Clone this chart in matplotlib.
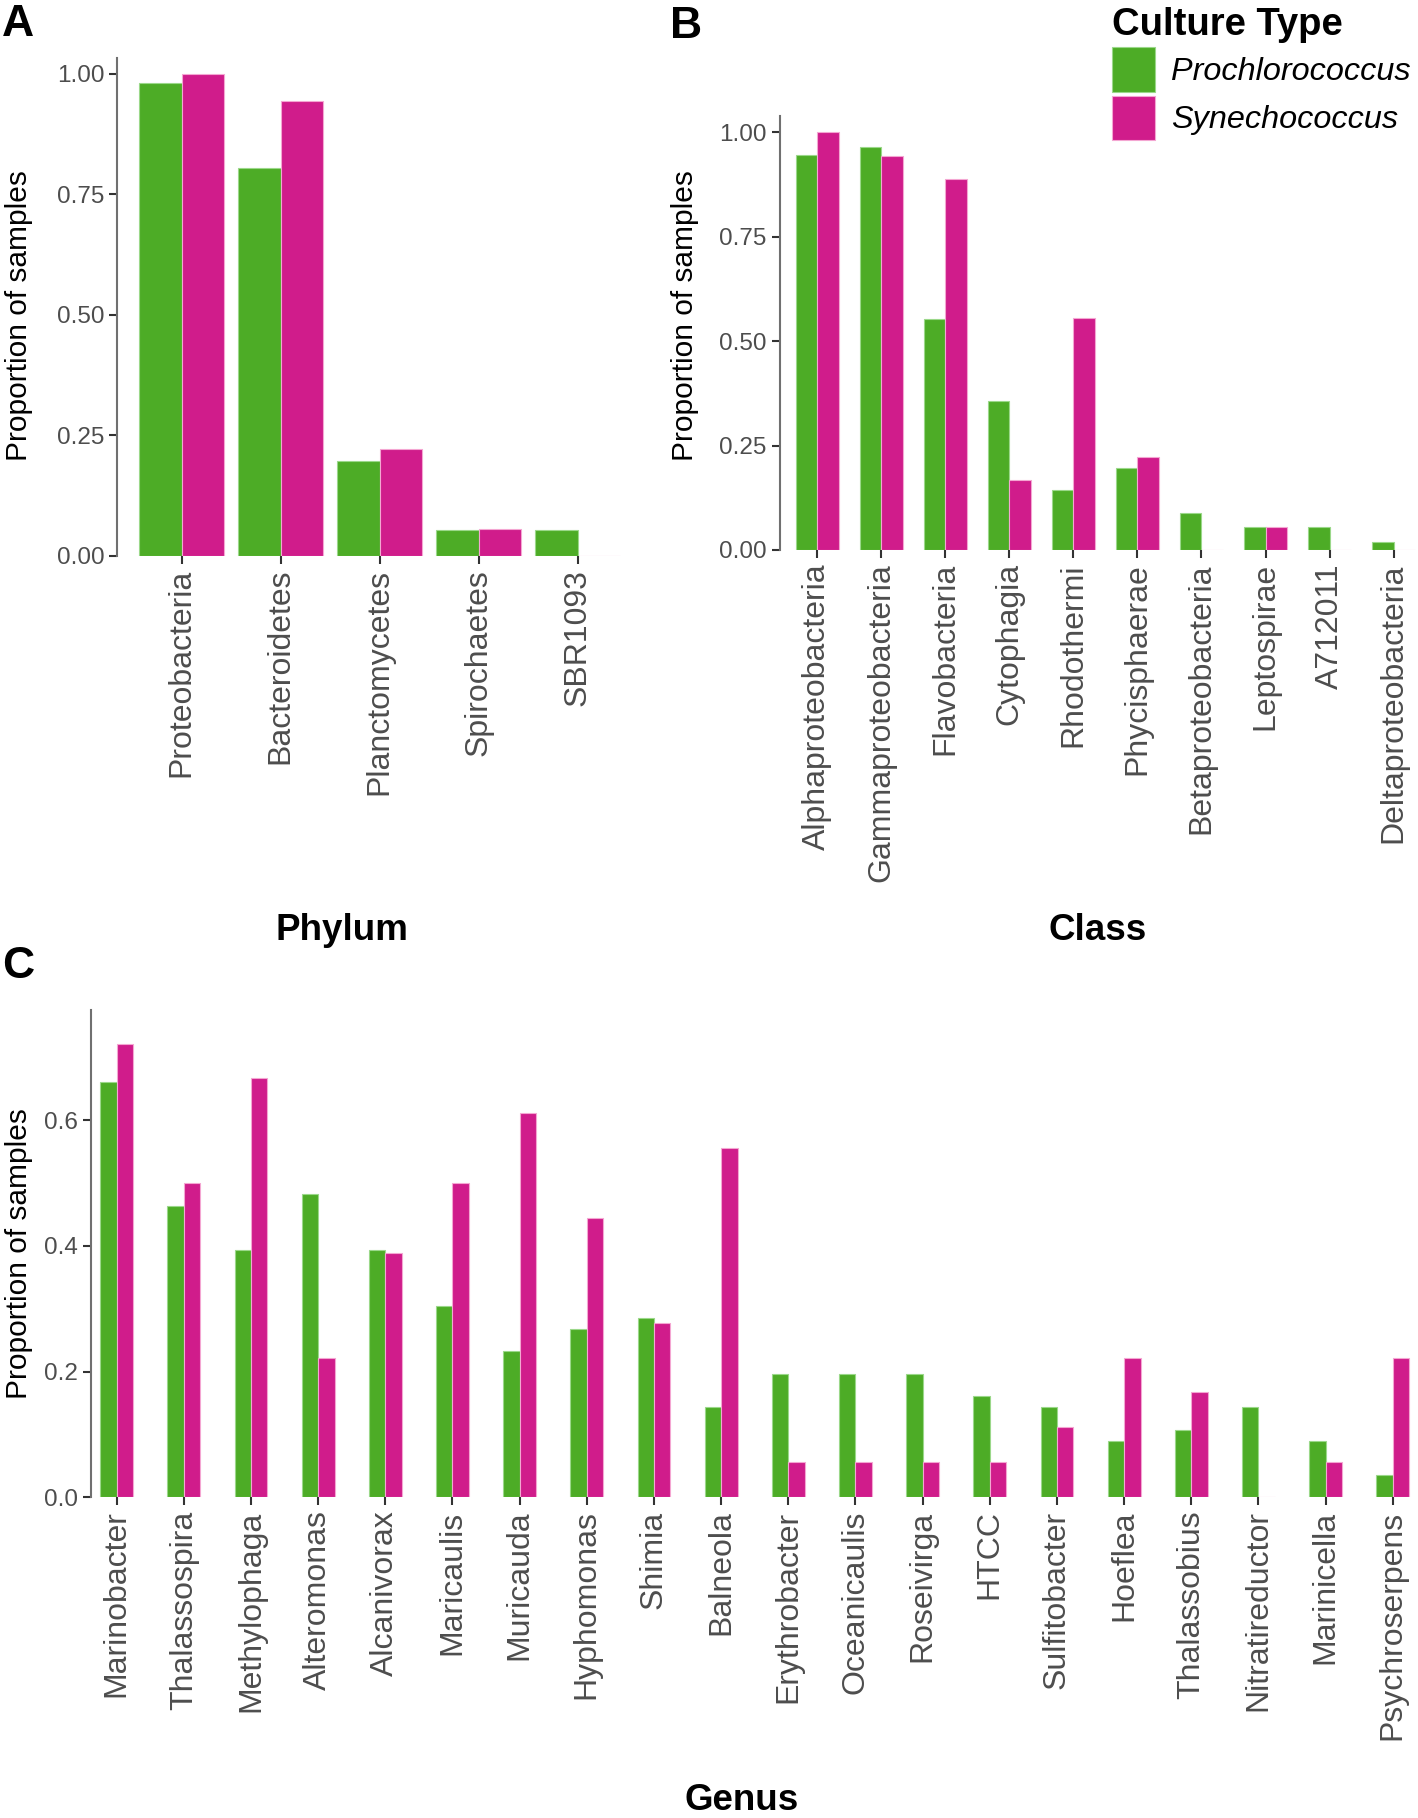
import matplotlib
matplotlib.use("Agg")
import matplotlib.pyplot as plt
import numpy as np
from matplotlib.ticker import FixedLocator, FormatStrFormatter

plt.rcParams["font.family"] = ["Liberation Sans", "DejaVu Sans"]

# ── data ──
culture_types = ["Prochlorococcus", "Synechococcus"]

phyla = ["Proteobacteria", "Bacteroidetes", "Planctomycetes", "Spirochaetes", "SBR1093"]
phylum_pro = [0.982, 0.804, 0.196, 0.054, 0.054]
phylum_syn = [1.000, 0.944, 0.222, 0.056, 0.0]

classes = ["Alphaproteobacteria", "Gammaproteobacteria", "Flavobacteria", "Cytophagia",
           "Rhodothermi", "Phycisphaerae", "Betaproteobacteria", "Leptospirae",
           "A712011", "Deltaproteobacteria"]
class_pro = [0.946, 0.964, 0.554, 0.357, 0.143, 0.196, 0.089, 0.054, 0.054, 0.018]
class_syn = [1.000, 0.944, 0.889, 0.167, 0.556, 0.222, 0.0, 0.056, 0.0, 0.0]

genera = ["Marinobacter", "Thalassospira", "Methylophaga", "Alteromonas", "Alcanivorax",
          "Maricaulis", "Muricauda", "Hyphomonas", "Shimia", "Balneola", "Erythrobacter",
          "Oceanicaulis", "Roseivirga", "HTCC", "Sulfitobacter", "Hoeflea", "Thalassobius",
          "Nitratireductor", "Marinicella", "Psychroserpens"]
genus_pro = [0.661, 0.464, 0.393, 0.482, 0.393, 0.304, 0.232, 0.268, 0.286, 0.143,
             0.196, 0.196, 0.196, 0.161, 0.143, 0.089, 0.107, 0.143, 0.089, 0.036]
genus_syn = [0.722, 0.500, 0.667, 0.222, 0.389, 0.500, 0.611, 0.444, 0.278, 0.556,
             0.056, 0.056, 0.056, 0.056, 0.111, 0.222, 0.167, 0.0, 0.056, 0.222]

GREEN, GREEN_EDGE = "#4DAC26", "#9BD88A"
MAGENTA, MAGENTA_EDGE = "#D01C8B", "#F4A6D2"
TICK_TXT = "#4D4D4D"

W, H = 1418, 1818
fig = plt.figure(figsize=(W / 100, H / 100), dpi=100)


def rect(l, r, top, bottom):
    return [l / W, 1 - bottom / H, (r - l) / W, (bottom - top) / H]


def draw_panel(ax, cats, pro, syn, bar_w, xlim, ylim, yticks, fmt, label_xy):
    x = np.arange(len(cats))
    bp = ax.bar(x - bar_w / 2, pro, bar_w, color=GREEN, edgecolor=GREEN_EDGE, linewidth=0.8)
    bs = ax.bar(x + bar_w / 2, syn, bar_w, color=MAGENTA, edgecolor=MAGENTA_EDGE, linewidth=0.8)
    ax.set_xlim(*xlim)
    ax.set_ylim(*ylim)
    ax.set_xticks(x)
    ax.set_xticklabels(cats, rotation=90, fontsize=23, color=TICK_TXT)
    ax.yaxis.set_major_locator(FixedLocator(yticks))
    ax.yaxis.set_major_formatter(FormatStrFormatter(fmt))
    for s in ("top", "right", "bottom"):
        ax.spines[s].set_visible(False)
    ax.spines["left"].set_color("#707070")
    ax.spines["left"].set_linewidth(1.5)
    ax.tick_params(axis="both", colors="#333333", width=1.5, length=5.5)
    ax.tick_params(axis="y", labelsize=17.5, labelcolor=TICK_TXT, pad=4)
    ax.tick_params(axis="x", labelcolor=TICK_TXT, pad=4)
    ax.set_ylabel("Proportion of samples", fontsize=21.5, va="center")
    # label placed in figure pixels, like the reference layout
    ax.yaxis.set_label_coords(label_xy[0] / W, 1 - label_xy[1] / H, transform=fig.transFigure)
    ax.set_facecolor("none")
    return bp, bs


# ── A: phylum ──
axA = fig.add_axes(rect(117.4, 642, 58.1, 555.6))
draw_panel(axA, phyla, phylum_pro, phylum_syn, 0.43, (-0.648, 4.648), (0, 1.033),
           [0, 0.25, 0.5, 0.75, 1.0], "%.2f", (19, 316))

# ── B: class ──
axB = fig.add_axes(rect(779.9, 1418, 115.9, 550.0))
bp, bs = draw_panel(axB, classes, class_pro, class_syn, 0.335, (-0.58, 9.38), (0, 1.039),
                    [0, 0.25, 0.5, 0.75, 1.0], "%.2f", (685, 316))

# ── C: genus ──
axC = fig.add_axes(rect(91.1, 1418, 1010.3, 1497.2))
draw_panel(axC, genera, genus_pro, genus_syn, 0.245, (-0.38, 19.375), (0, 0.775),
           [0, 0.2, 0.4, 0.6], "%.1f", (19, 1254))

# axis titles
fig.text(342 / W, 1 - 931 / H, "Phylum", fontsize=26.5, fontweight="bold", ha="center", va="center")
fig.text(1098 / W, 1 - 931 / H, "Class", fontsize=26.5, fontweight="bold", ha="center", va="center")
fig.text(742 / W, 1 - 1800 / H, "Genus", fontsize=26.5, fontweight="bold", ha="center", va="center")

# panel letters
for lbl, px, py in (("A", 2, 4), ("B", 670, 6), ("C", 2, 946)):
    fig.text(px / W, 1 - py / H, lbl, fontsize=32, fontweight="bold", ha="left", va="top")

# legend
fig.legend(handles=[bp, bs], labels=culture_types, loc="upper left",
           bbox_to_anchor=(1112 / W, 1 - 7 / H), frameon=False, borderpad=0,
           borderaxespad=0, title="Culture Type",
           title_fontproperties={"weight": "bold", "size": 27.5},
           prop={"style": "italic", "size": 23.3}, handlelength=1.33, handleheight=1.75,
           handletextpad=0.5, labelspacing=0.12, alignment="left")

fig.savefig("out.png", dpi=100)
